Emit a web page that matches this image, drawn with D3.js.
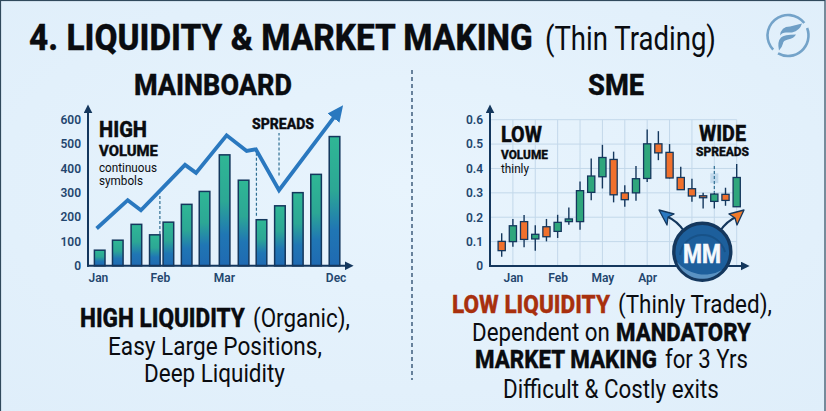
<!DOCTYPE html>
<html>
<head>
<meta charset="utf-8">
<script src="https://cdn.jsdelivr.net/npm/d3@7/dist/d3.min.js"></script>
<style>
html,body{margin:0;padding:0;background:#e4f1fb;overflow:hidden}
svg{display:block}
text{font-family:Roboto,"Liberation Sans",sans-serif}
</style>
</head>
<body>
<svg id="chart" width="826" height="411"></svg>
<script>
// Mainboard panel: volume bars with a price line drawn over them
const boardSlots = [0,1,2.03,3.05,3.8,4.81,5.8,6.91,7.96,8.95,9.97,10.96,11.97,12.99];
const boardVolumes = [64,105,170,127,179,252,305,455,351,189,246,300,375,530];
const trendSlots = [-0.17,1.55,2.28,4.72,5.33,7.02,8.13,8.64,9.92,13.25];
const trendValues = [153,269,228,414,381,535,471,478,310,637];
const boardYTicks = [0,100,200,300,400,500,600];
const boardXTickSlots = [-0.1,3.33,6.87,13.05];
const boardXTickLabels = ["Jan","Feb","Mar","Dec"];
const spreadSlots = [3.33,8.67,9.92];
const spreadFrom = [130,205,370];
const spreadTo = [295,465,545];

// SME panel: daily candles, thin and erratic
const candleOpen = [.101,.100,.182,.111,.161,.142,.182,.182,.302,.366,.437,.300,.300,.359,.501,.466,.363,.317,.288,.265,.294,.243];
const candleClose = [.063,.165,.109,.130,.120,.179,.193,.309,.369,.445,.292,.272,.358,.501,.464,.361,.313,.287,.280,.295,.269,.363];
const candleHigh = [.134,.193,.209,.167,.193,.210,.240,.347,.441,.497,.469,.331,.410,.560,.553,.500,.407,.358,.300,.300,.321,.418];
const candleLow = [.038,.079,.077,.063,.101,.115,.169,.149,.270,.318,.261,.243,.268,.344,.434,.359,.313,.264,.236,.236,.247,.243];
const smeYTicks = [0,.1,.2,.3,.4,.5,.6];
const smeGridSlots = [1,3,5,7,9,11,13,15,17,19,21];
const smeXTickSlots = [1,5,9,13];
const smeXTickLabels = ["Jan","Feb","May","Apr"];

const navy = "#14375d", tickInk = "#23466e", ink = "#0a0c10";
const svg = d3.select("#chart");
const defs = svg.append("defs");

// Page background with a soft central glow
const bg = defs.append("radialGradient").attr("id","bg").attr("cx","50%").attr("cy","45%").attr("r","75%");
bg.append("stop").attr("offset","0%").attr("stop-color","#e8f4fd");
bg.append("stop").attr("offset","100%").attr("stop-color","#dfeefa");
svg.append("rect").attr("width",826).attr("height",411).attr("fill","url(#bg)");
svg.append("rect").attr("x",.5).attr("y",.5).attr("width",824.5).attr("height",412).attr("fill","none").attr("stroke","#30495c").attr("stroke-width",1.2);

const barFill = defs.append("linearGradient").attr("id","barFill").attr("x1",0).attr("x2",0).attr("y1",0).attr("y2",1);
barFill.append("stop").attr("offset","0%").attr("stop-color","#2fb795");
barFill.append("stop").attr("offset","42%").attr("stop-color","#2ca795");
barFill.append("stop").attr("offset","72%").attr("stop-color","#2076b4");
barFill.append("stop").attr("offset","100%").attr("stop-color","#1f6ab2");

function arrowMarker(id,color,w,h){
  defs.append("marker").attr("id",id).attr("viewBox",`0 0 ${w} ${h}`).attr("markerUnits","userSpaceOnUse")
    .attr("refX",w*0.6).attr("refY",h/2).attr("markerWidth",w).attr("markerHeight",h).attr("orient","auto")
    .append("path").attr("d",`M0,0L${w},${h/2}L0,${h}Z`).attr("fill",color);
}
arrowMarker("axisHead",navy,9,9);
arrowMarker("trendHead","#2a78bf",16,15);

// Text helper: each run is squeezed horizontally to its span for the narrow lettering
function label(x,y,str,size,weight,end,fill){
  const t = svg.append("text").attr("font-size",size).attr("font-weight",weight)
    .attr("fill",fill||ink).text(str);
  if (weight >= 700) t.attr("stroke",fill||ink).attr("stroke-width",0.35);
  const sx = (end-x)/t.node().getComputedTextLength();
  t.attr("transform",`translate(${x},${y}) scale(${sx},1)`);
  return t;
}

label(29,50,"4. LIQUIDITY & MARKET MAKING",36.5,800,533);
label(545,50,"(Thin Trading)",34,400,716);
label(134,95,"MAINBOARD",29.5,800,292);
label(588,95,"SME",29.5,800,644);

svg.append("line").attr("x1",412).attr("x2",412).attr("y1",70).attr("y2",380)
  .attr("stroke",navy).attr("stroke-width",1.2).attr("stroke-dasharray","4 3");

// Shared styling for the value and category axes
function styleAxis(g){
  g.select(".domain").remove();
  g.selectAll(".tick text").attr("fill",tickInk).attr("font-size",12).attr("font-weight",600)
    .style("font-family","Roboto,sans-serif");
}

// --- Mainboard ---
const xBoard = d3.scaleLinear().domain([0,13]).range([99.7,334.7]);
const yBoard = d3.scaleLinear().domain([0,600]).range([265.8,119.5]);

svg.append("g").selectAll("rect").data(boardVolumes).join("rect")
  .attr("x",(d,i)=>xBoard(boardSlots[i])-5.3).attr("width",10.6)
  .attr("y",d=>yBoard(d)).attr("height",d=>yBoard(0)-yBoard(d))
  .attr("fill","url(#barFill)").attr("stroke",navy).attr("stroke-width",1.5);

svg.append("g").selectAll("line").data(spreadSlots).join("line")
  .attr("x1",d=>xBoard(d)).attr("x2",d=>xBoard(d))
  .attr("y1",(d,i)=>yBoard(spreadFrom[i])).attr("y2",(d,i)=>yBoard(spreadTo[i]))
  .attr("stroke","#2f6f93").attr("stroke-width",1.2).attr("stroke-dasharray","3 2");

const trendLine = d3.line().x((d,i)=>xBoard(trendSlots[i])).y(d=>yBoard(d));
svg.append("path").attr("d",trendLine(trendValues)).attr("fill","none")
  .attr("stroke","#2a78bf").attr("stroke-width",3.8).attr("stroke-linejoin","miter")
  .attr("marker-end","url(#trendHead)");

svg.append("g").attr("transform",`translate(88,0)`)
  .call(d3.axisLeft(yBoard).tickValues(boardYTicks).tickSize(0).tickPadding(7)).call(styleAxis);
svg.append("g").attr("transform",`translate(0,277)`)
  .call(d3.axisBottom(xBoard).tickValues(boardXTickSlots).tickFormat((d,i)=>boardXTickLabels[i]).tickSize(0).tickPadding(-4)).call(styleAxis);

svg.append("line").attr("x1",88).attr("x2",88).attr("y1",yBoard(0)+1).attr("y2",108)
  .attr("stroke",navy).attr("stroke-width",2).attr("marker-end","url(#axisHead)");
svg.append("line").attr("x1",87).attr("x2",350).attr("y1",yBoard(0)).attr("y2",yBoard(0))
  .attr("stroke",navy).attr("stroke-width",2).attr("marker-end","url(#axisHead)");

label(99,137,"HIGH",22.5,800,147);
label(99,156,"VOLUME",15.5,800,158);
label(99,172,"continuous",13,400,157);
label(99,185,"symbols",13,400,143);
label(252,129,"SPREADS",15,800,314);

// --- SME ---
const xSme = d3.scaleLinear().domain([0,21]).range([501.7,736.7]);
const ySme = d3.scaleLinear().domain([0,.6]).range([266,119.7]);

const grid = svg.append("g").attr("stroke","#c3d8ea").attr("stroke-width",1);
grid.selectAll(".h").data(smeYTicks.slice(1)).join("line").attr("class","h")
  .attr("x1",490).attr("x2",xSme(21)).attr("y1",d=>ySme(d)).attr("y2",d=>ySme(d));
grid.selectAll(".v").data(smeGridSlots).join("line").attr("class","v")
  .attr("x1",d=>xSme(d)).attr("x2",d=>xSme(d)).attr("y1",ySme(.6)).attr("y2",ySme(0));

const candles = svg.append("g").selectAll("g").data(candleOpen).join("g");
candles.append("line")
  .attr("x1",(d,i)=>xSme(i)).attr("x2",(d,i)=>xSme(i))
  .attr("y1",(d,i)=>ySme(candleHigh[i])).attr("y2",(d,i)=>ySme(candleLow[i]))
  .attr("stroke",navy).attr("stroke-width",1.4);
candles.append("rect")
  .attr("x",(d,i)=>xSme(i)-3.6).attr("width",7.2)
  .attr("y",(d,i)=>ySme(Math.max(d,candleClose[i])))
  .attr("height",(d,i)=>Math.abs(ySme(d)-ySme(candleClose[i])))
  .attr("fill",(d,i)=>candleClose[i]>=d?"#2fa67c":"#f0702c")
  .attr("stroke",navy).attr("stroke-width",1.3);

// Spread marker above the second-to-last quiet candle
svg.append("rect").attr("x",xSme(19)-4).attr("y",ySme(.38)).attr("width",8).attr("height",ySme(.34)-ySme(.38))
  .attr("fill","#bcd6ea").attr("opacity",.9);
svg.append("line").attr("x1",xSme(19)).attr("x2",xSme(19)).attr("y1",ySme(.41)).attr("y2",ySme(.3))
  .attr("stroke","#2f6f93").attr("stroke-width",1.2).attr("stroke-dasharray","3 2");

svg.append("g").attr("transform",`translate(490,0)`)
  .call(d3.axisLeft(ySme).tickValues(smeYTicks).tickSize(0).tickPadding(7)
    .tickFormat(d=>d===0?"0":d3.format(".1f")(d))).call(styleAxis);
svg.append("g").attr("transform",`translate(0,277)`)
  .call(d3.axisBottom(xSme).tickValues(smeXTickSlots).tickFormat((d,i)=>smeXTickLabels[i]).tickSize(0).tickPadding(-4)).call(styleAxis);

svg.append("line").attr("x1",490).attr("x2",490).attr("y1",ySme(0)+1).attr("y2",108)
  .attr("stroke",navy).attr("stroke-width",2).attr("marker-end","url(#axisHead)");
svg.append("line").attr("x1",489).attr("x2",746).attr("y1",ySme(0)).attr("y2",ySme(0))
  .attr("stroke",navy).attr("stroke-width",2).attr("marker-end","url(#axisHead)");

label(501,142,"LOW",22.5,800,542);
label(501,159,"VOLUME",13,800,548);
label(501,173,"thinly",12.5,400,529);
label(699,141,"WIDE",22.5,800,746);
label(696,156,"SPREADS",13,800,749);

// Market maker badge with its two support arrows
function supportArrow(path,head,color){
  svg.append("path").attr("d",path).attr("fill","none").attr("stroke",navy).attr("stroke-width",2);
  svg.append("path").attr("d",head).attr("fill",color).attr("stroke",navy).attr("stroke-width",1.3).attr("stroke-linejoin","round");
}
supportArrow("M684,231Q677,221 668,217","M659,210L674,214L668,217L667,225Z","#2a78c0");
supportArrow("M720,231Q727,221 736,217","M744,210L729,214L735,218L737,225Z","#f07a2a");

svg.append("circle").attr("cx",702.3).attr("cy",251.7).attr("r",28.5).attr("fill","#1d5f9c").attr("stroke",navy).attr("stroke-width",3.4);
svg.append("path").attr("d","M677,262A27,27 0 0 0 722,270A36,36 0 0 1 677,262Z").attr("fill","#6a9fcc").attr("opacity",.8);
svg.append("path").attr("d","M680,255A23,23 0 0 1 725,252").attr("fill","none").attr("stroke","#14497c").attr("stroke-width",2).attr("opacity",.6);
label(683,262.7,"MM",26,800,721,"#f4f8fc");

// Captions under each panel
label(80,327,"HIGH LIQUIDITY",25.5,800,245);
label(253,327,"(Organic),",25.5,400,350);
label(108,355,"Easy Large Positions,",25.5,400,322);
label(144,382,"Deep Liquidity",25.5,400,285);

label(452,313,"LOW LIQUIDITY",25.5,800,610,"#a8300e");
label(618,313,"(Thinly Traded),",25.5,400,772);
label(472,341,"Dependent on",25.5,400,610);
label(616,341,"MANDATORY",25.5,800,751);
label(475,368,"MARKET MAKING",25.5,800,657);
label(665,368,"for 3 Yrs",25.5,400,748);
label(503,398,"Difficult & Costly exits",25.5,400,719);

// Brand mark, top right
const logo = svg.append("g").attr("transform","translate(788,35.5)");
const ring = d3.arc().innerRadius(19.2).outerRadius(21.8);
[[1.2,3.65],[3.95,7.2]].forEach(a=>logo.append("path")
  .attr("d",ring({startAngle:a[0],endAngle:a[1]})).attr("fill","#74a3c9"));
logo.append("path").attr("d","M-8,0Q-7,-9 2,-9L14,-12Q12,-5 4,-3L-2,-3Q-6,-3 -8,0Z").attr("fill","#6f9fc6");
logo.append("path").attr("d","M-9,15Q-11,6 -7,2Q-4,-1 8,-1Q6,3 0,4Q-5,5 -5,8Q-6,12 -9,15Z").attr("fill","#6f9fc6");
</script>
</body>
</html>
